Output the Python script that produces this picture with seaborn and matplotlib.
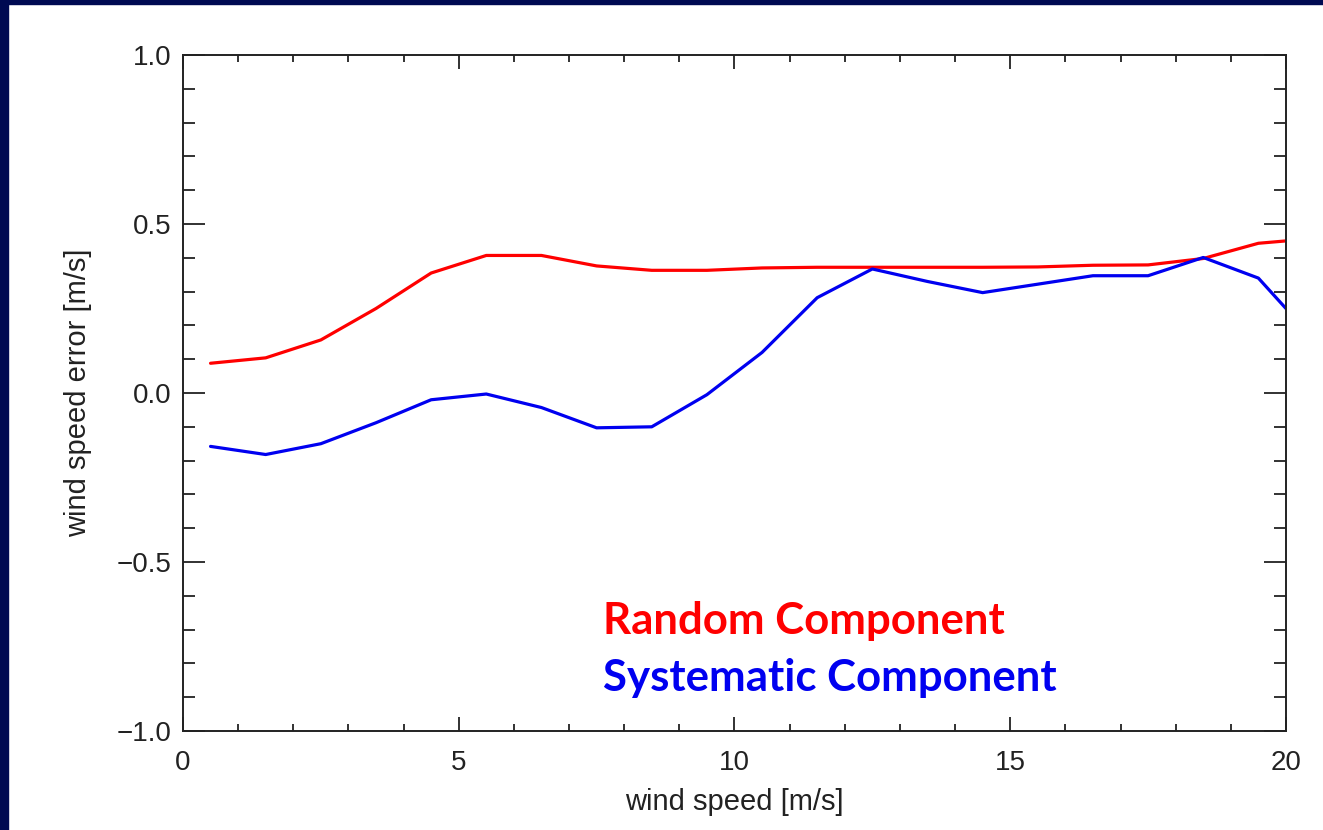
import matplotlib
matplotlib.use("Agg")
import matplotlib.pyplot as plt
from matplotlib.patches import Rectangle
from matplotlib.ticker import MultipleLocator, FuncFormatter
import seaborn as sns

# ── data ──────────────────────────────────────────────────────────────────────
wind_speed = [0.5, 1.5, 2.5, 3.5, 4.5, 5.5, 6.5, 7.5, 8.5, 9.5, 10.5,
              11.5, 12.5, 13.5, 14.5, 15.5, 16.5, 17.5, 18.5, 19.5, 20.0]
random_component = [0.088, 0.104, 0.157, 0.250, 0.355, 0.407, 0.407, 0.376,
                    0.363, 0.363, 0.370, 0.372, 0.372, 0.372, 0.372, 0.373,
                    0.378, 0.379, 0.398, 0.443, 0.450]
systematic_component = [-0.158, -0.182, -0.150, -0.088, -0.020, -0.003, -0.043,
                        -0.103, -0.100, -0.005, 0.120, 0.282, 0.367, 0.330,
                        0.297, 0.322, 0.347, 0.347, 0.401, 0.340, 0.250]
labels = ["Random Component", "Systematic Component"]

RED = "#FF0000"
BLUE = "#0000F0"
NAVY = "#000A52"
INK = "#222222"

sns.set_theme(style="ticks")
plt.rcParams["font.family"] = ["Liberation Sans", "DejaVu Sans"]

fig = plt.figure(figsize=(13.23, 8.30), dpi=100, facecolor="white")
ax = fig.add_axes([0.1383, 0.1193, 0.972 - 0.1383, 0.9337 - 0.1193])

# navy slide frame on left and top edges
fig.patches.append(Rectangle((0, 0), 8 / 1323, 1, transform=fig.transFigure,
                             color=NAVY, zorder=0))
fig.patches.append(Rectangle((0, 1 - 4 / 830), 1, 4 / 830, transform=fig.transFigure,
                             color=NAVY, zorder=0))

sns.lineplot(x=wind_speed, y=random_component, color=RED, linewidth=2.3, ax=ax)
sns.lineplot(x=wind_speed, y=systematic_component, color=BLUE, linewidth=2.3, ax=ax)

ax.set_xlim(0, 20)
ax.set_ylim(-1.0, 1.0)
ax.xaxis.set_major_locator(MultipleLocator(5))
ax.xaxis.set_minor_locator(MultipleLocator(1))
ax.yaxis.set_major_locator(MultipleLocator(0.5))
ax.yaxis.set_minor_locator(MultipleLocator(0.1))
ax.xaxis.set_major_formatter(FuncFormatter(lambda v, p: f"{v:.0f}"))
ax.yaxis.set_major_formatter(FuncFormatter(lambda v, p: f"{v:.1f}".replace("-", "\u2212")))

for side in ax.spines.values():
    side.set_visible(True)
    side.set_linewidth(1.4)
    side.set_color(INK)

ax.tick_params(axis="both", which="both", direction="in", top=True, right=True,
               color=INK, width=1.3, labelcolor=INK, labelsize=20)
ax.tick_params(axis="x", which="major", length=10, pad=14)
ax.tick_params(axis="x", which="minor", length=5)
ax.tick_params(axis="y", which="major", length=16, pad=8)
ax.tick_params(axis="y", which="minor", length=8.6)

ax.set_xlabel("wind speed [m/s]", fontsize=21, color=INK, labelpad=8)
ax.set_ylabel("wind speed error [m/s]", fontsize=21, color=INK, labelpad=18)

legend_font = ["Lato", "DejaVu Sans"]
ax.text(7.62, -0.675, labels[0], color=RED, fontsize=31.5, fontweight="bold",
        family=legend_font, va="center", ha="left")
ax.text(7.62, -0.843, labels[1], color=BLUE, fontsize=31.5, fontweight="bold",
        family=legend_font, va="center", ha="left")

fig.savefig("out.png", dpi=100, facecolor="white")
